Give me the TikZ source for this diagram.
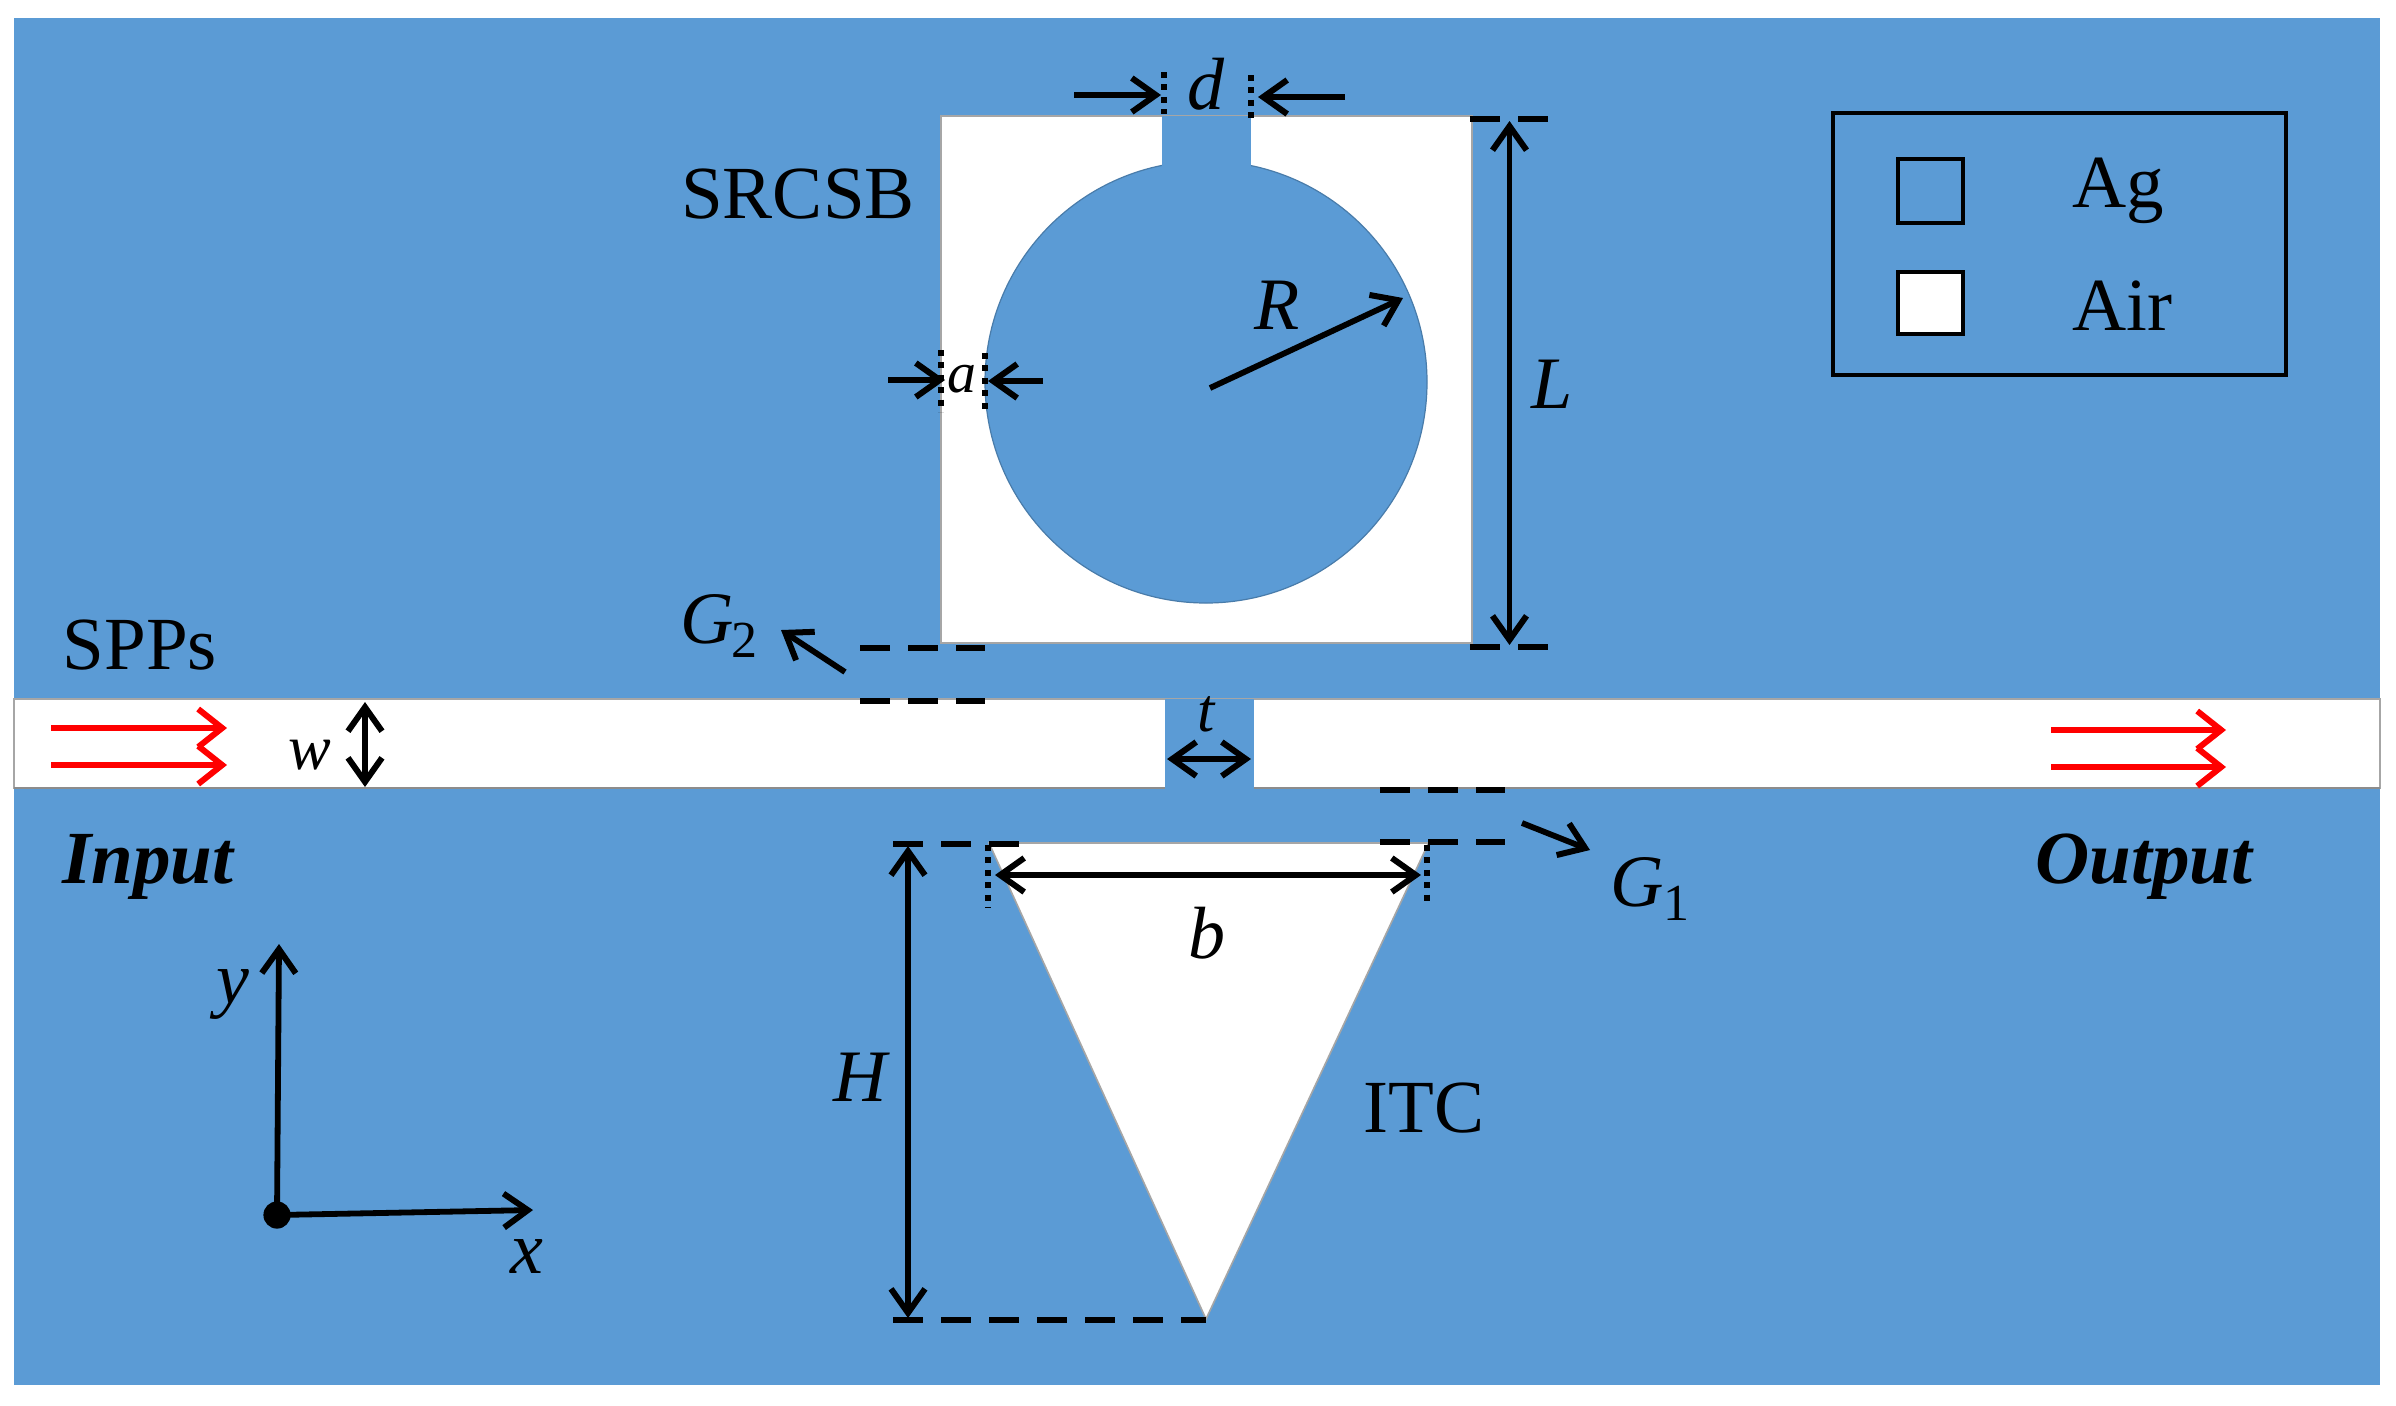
\documentclass[tikz,border=0pt]{standalone}
\usepackage{fontspec}
\setmainfont{Liberation Serif}
\usetikzlibrary{arrows.meta}
\definecolor{agblue}{HTML}{5B9BD5}
\tikzset{
  dim/.style={black,line width=2.9pt},
  barbtip/.tip={Straight Barb[length=12pt,width=17pt,line width=3pt]},
  arr/.style={dim,-barbtip},
  darr/.style={dim,barbtip-barbtip},
  thinarr/.style={black,line width=2.3pt,barbtip-barbtip},
  redarr/.style={red,line width=3pt,-{Straight Barb[length=12pt,width=19pt,line width=3pt]}},
  dashline/.style={black,line width=3.4pt,dash pattern=on 15pt off 9pt},
  dotline/.style={black,line width=2.9pt,dash pattern=on 3pt off 3.2pt},
  air/.style={fill=white,draw=black!35,line width=0.8pt},
  txt/.style={inner sep=0pt,font=\fontsize{37.5}{42}\selectfont},
  sym/.style={inner sep=0pt,font=\fontsize{37}{42}\selectfont\itshape},
  bolditalic/.style={inner sep=0pt,font=\fontsize{37.5}{42}\selectfont\bfseries\itshape},
  sub/.style={inner sep=0pt,font=\fontsize{26}{28}\selectfont}
}
\begin{document}
\begin{tikzpicture}[x=0.5pt,y=-0.5pt]
\useasboundingbox (0,0) rectangle (2396,1405);
\fill[white] (0,0) rectangle (2396,1405);
\fill[agblue] (14,18) rectangle (2380,1385);
% waveguide and stub
\path[air] (14,699) rectangle (2380,788);
\draw[black!45,line width=1.4pt] (14,788) -- (2380,788);
\fill[agblue] (1164.5,698.5) rectangle (1254,789);
% square resonator
\path[air] (941,116) rectangle (1472,643);
\draw[fill=agblue,draw=agblue!80!black,line width=0.6pt] (1206,382) circle[radius=110.5pt];
\fill[agblue] (1162,115.5) rectangle (1251,175);
% triangle
\path[air] (989,843) -- (1428.5,843) -- (1206,1319) -- cycle;
% legend
\draw[black,line width=2pt] (1833,113) rectangle (2286,375);
\draw[black,line width=1.7pt,fill=agblue] (1898,159) rectangle (1963,223);
\draw[black,line width=1.7pt,fill=white] (1898,272) rectangle (1963,334);
\node[txt] (ag) at (2118,191) {Ag};
\node[txt] (airl) at (2122,306) {Air};
% L
\coordinate (lt) at (1509.5,121);
\coordinate (lb) at (1509.5,645);
\draw[dashline] (1470,119) -- (1558,119);
\draw[dashline] (1470,647) -- (1558,647);
\draw[darr] (lt) -- (lb);
\node[sym] (L) at (1552,384) {L};
% d
\draw[dotline] (1164,72) -- (1164,114);
\draw[dotline] (1251,75) -- (1251,120);
\coordinate (d1) at (1074,95); \coordinate (d2) at (1161,95);
\coordinate (d3) at (1345,97); \coordinate (d4) at (1258,97);
\draw[arr] (d1) -- (d2);
\draw[arr] (d3) -- (d4);
\node[sym] (d) at (1206,84) {d};
% a
\draw[dotline] (941,350) -- (941,412);
\draw[dotline] (985,353) -- (985,412);
\coordinate (a1) at (888,380); \coordinate (a2) at (945,380);
\coordinate (a3) at (1043,381); \coordinate (a4) at (988,381);
\draw[arr] (a1) -- (a2);
\draw[arr] (a3) -- (a4);
\node[sym,font=\fontsize{29}{32}\selectfont\itshape] (a) at (962,379) {a};
% R
\coordinate (r1) at (1210,388); \coordinate (r2) at (1403,298);
\draw[arr] (r1) -- (r2);
\node[sym] (R) at (1277,305) {R};
\node[txt] (SRCSB) at (798,194) {SRCSB};
% G2
\draw[dashline] (860,648) -- (985,648);
\draw[dashline] (860,701) -- (985,701);
\coordinate (g21) at (845,672); \coordinate (g22) at (781,630);
\draw[arr] (g21) -- (g22);
\node[sym] (G2) at (707,619) {G};
\node[sub] (G2s) at (744,640) {2};
% G1
\draw[dashline] (1380,790) -- (1505,790);
\draw[dashline] (1380,842) -- (1505,842);
\coordinate (g11) at (1522,823); \coordinate (g12) at (1590,850);
\draw[arr] (g11) -- (g12);
\node[sym] (G1) at (1637,882) {G};
\node[sub] (G1s) at (1676,903) {1};
% t
\coordinate (t1) at (1167,759); \coordinate (t2) at (1251,759);
\draw[darr] (t1) -- (t2);
\node[sym,font=\fontsize{31}{34}\selectfont\itshape] (t) at (1206,714) {t};
% b
\coordinate (b1) at (995,875); \coordinate (b2) at (1421,875);
\draw[dotline] (988,845) -- (988,908);
\draw[dotline] (1427,845) -- (1427,906);
\draw[darr] (b1) -- (b2);
\node[sym] (b) at (1207,933) {b};
% H
\coordinate (h1) at (908,846); \coordinate (h2) at (908,1318);
\draw[dashline] (893,844) -- (1019,844);
\draw[dashline] (893,1320) -- (1206,1320);
\draw[darr] (h1) -- (h2);
\node[sym] (H) at (860,1077) {H};
\node[txt] (ITC) at (1424,1108) {ITC};
% w
\coordinate (w1) at (365,702); \coordinate (w2) at (365,787);
\draw[darr] (w1) -- (w2);
\node[sym,font=\fontsize{32}{34}\selectfont\itshape] (w) at (310,755) {w};
% red arrows
\coordinate (ri1) at (51,728); \coordinate (ri2) at (227,728);
\coordinate (ri3) at (51,765); \coordinate (ri4) at (227,765);
\coordinate (ro1) at (2051,730); \coordinate (ro2) at (2226,730);
\coordinate (ro3) at (2051,767); \coordinate (ro4) at (2226,767);
\draw[redarr] (ri1) -- (ri2);
\draw[redarr] (ri3) -- (ri4);
\draw[redarr] (ro1) -- (ro2);
\draw[redarr] (ro3) -- (ro4);
% labels
\node[txt] (SPPs) at (140,645) {SPPs};
\node[bolditalic] (Input) at (148,867) {Input};
\node[bolditalic] (Output) at (2144,867) {Output};
% axes
\coordinate (o) at (277,1215);
\coordinate (ya) at (279,944);
\coordinate (xa) at (533,1210);
\draw[arr] (o) -- (ya);
\draw[arr] (o) -- (xa);
\fill[black] (o) circle[radius=6.8pt];
\node[sym] (y) at (233,994) {y};
\node[sym] (x) at (527,1256) {x};
\end{tikzpicture}
\end{document}
